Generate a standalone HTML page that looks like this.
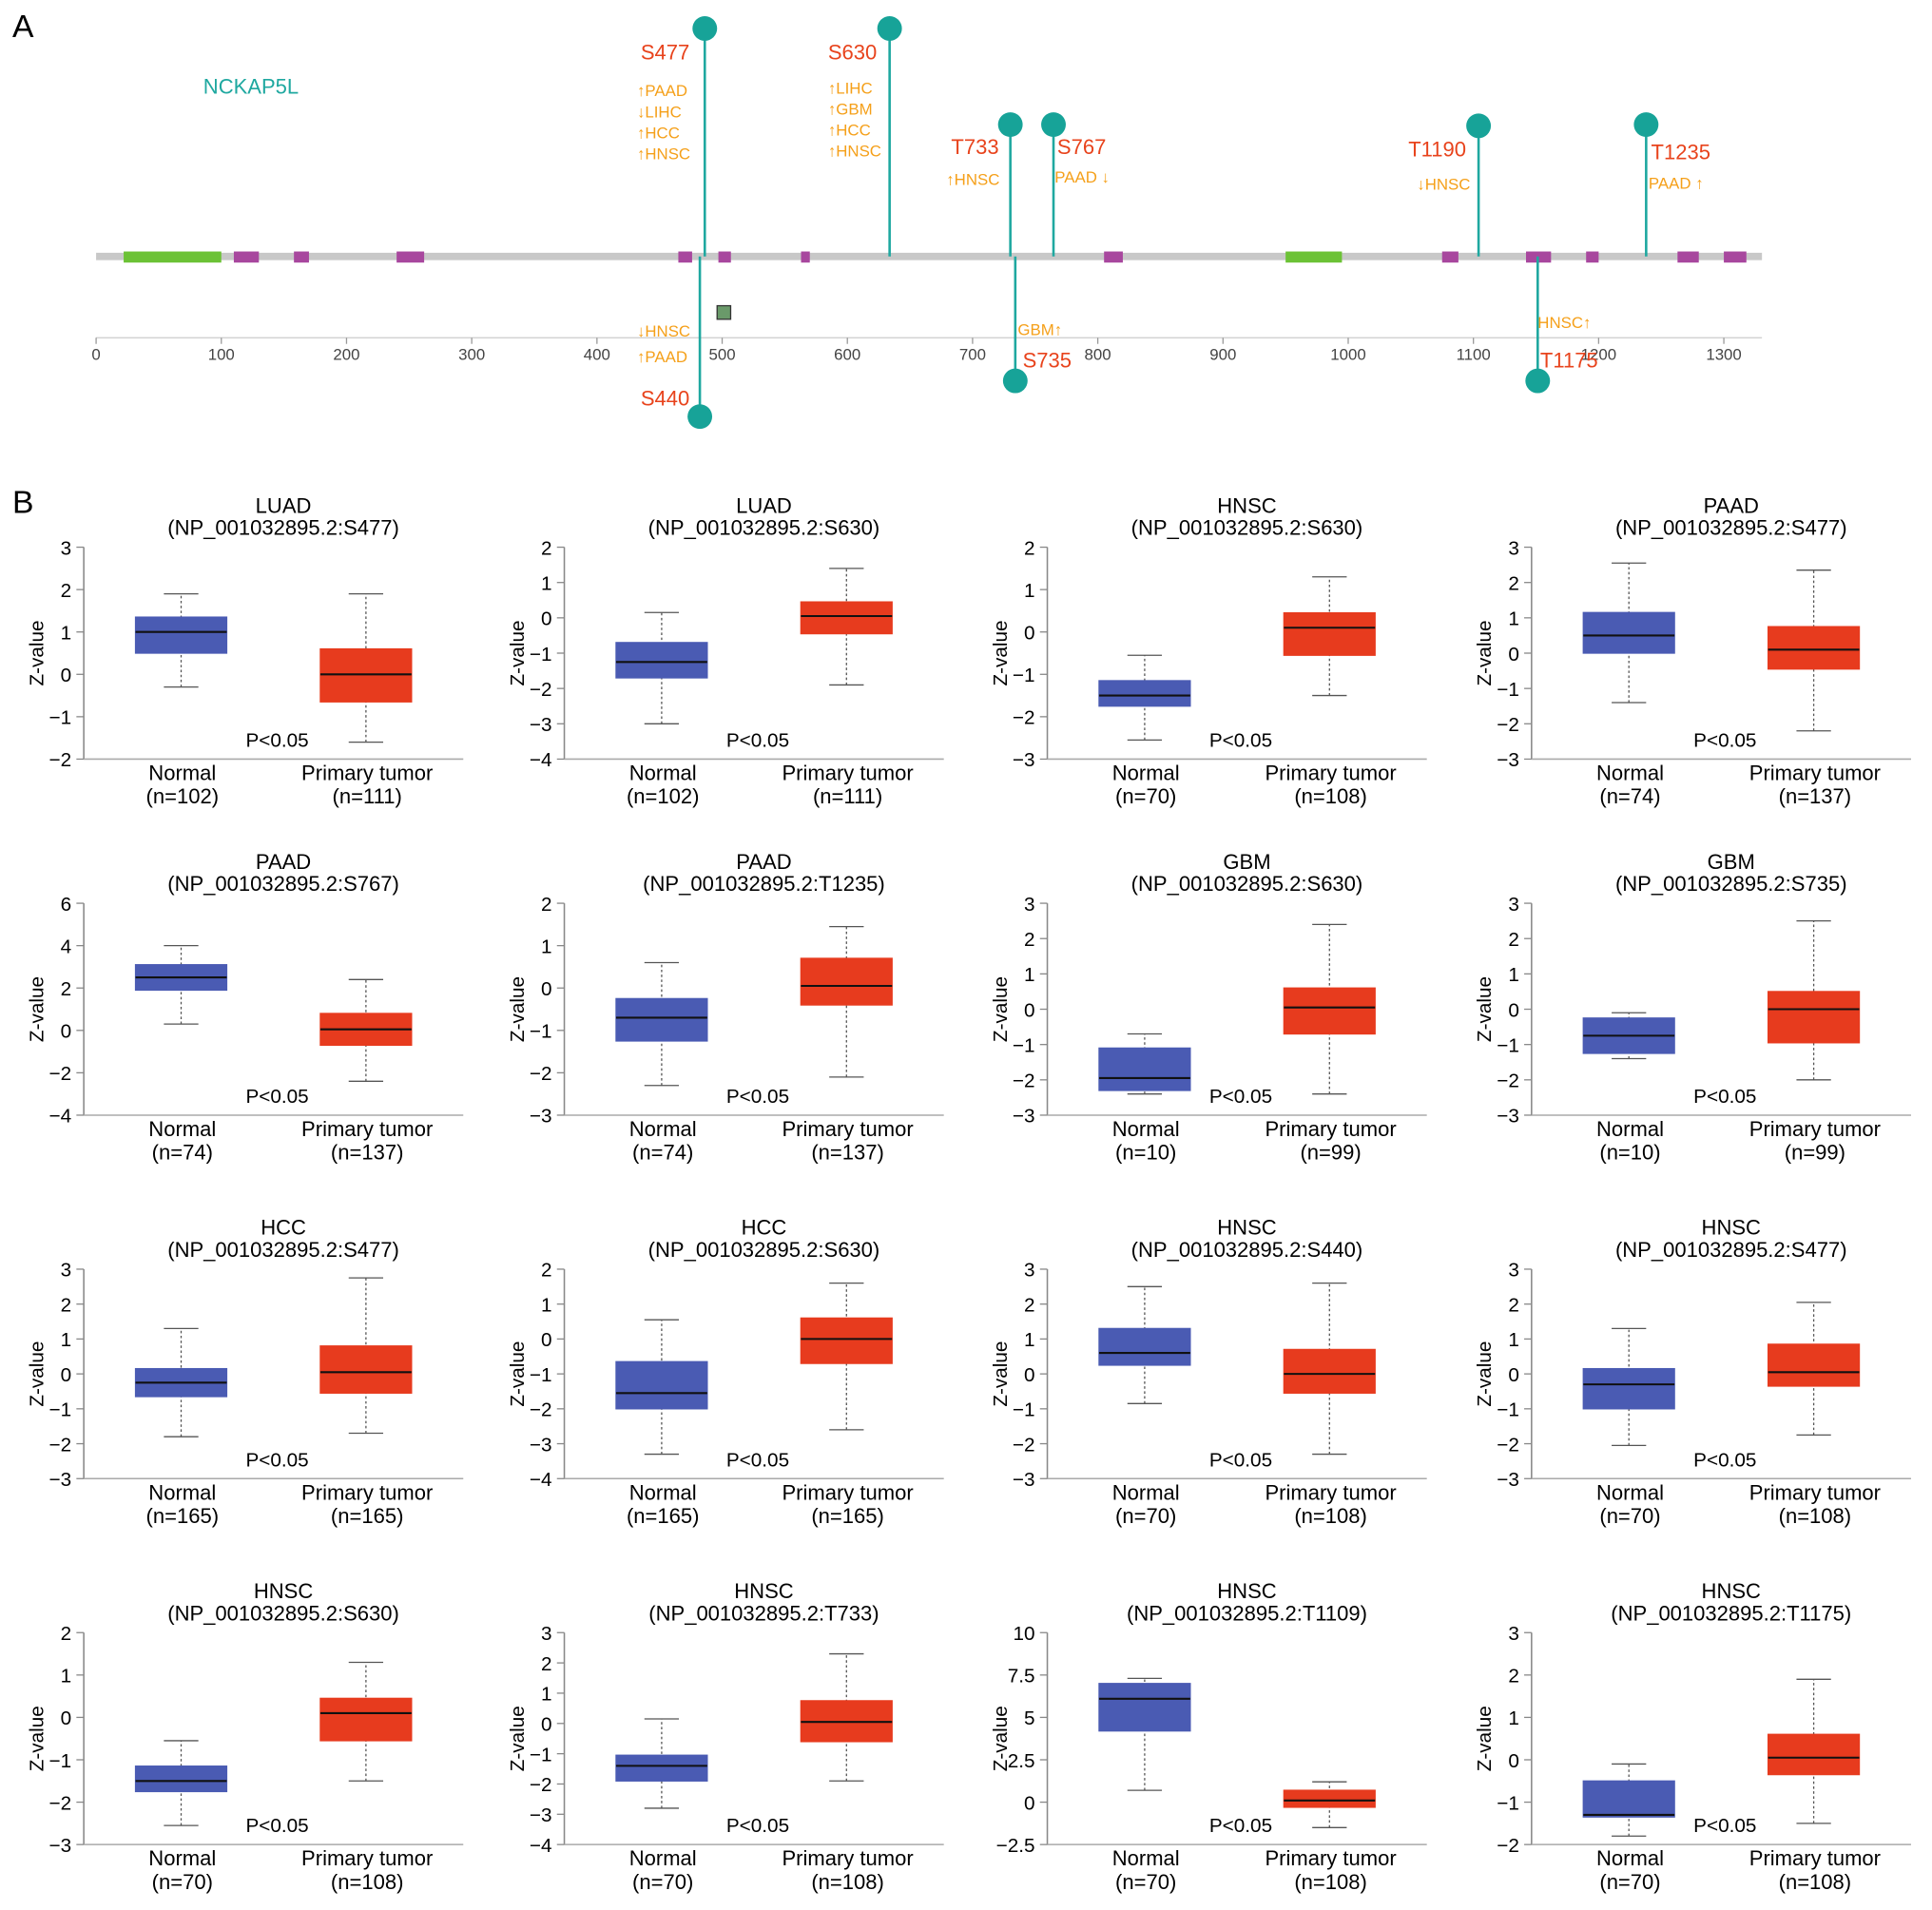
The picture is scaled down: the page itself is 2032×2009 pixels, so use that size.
<!DOCTYPE html>
<html><head><meta charset="utf-8">
<style>
html,body{margin:0;padding:0;background:#fff;}
svg{display:block;font-family:"Liberation Sans",Arial,sans-serif;}
</style></head>
<body>
<svg id="fig" width="2032" height="2009" viewBox="0 0 1568 1550" xmlns="http://www.w3.org/2000/svg">
<text x="10" y="30" font-size="26">A</text>
<text x="10" y="416" font-size="26">B</text>
<text x="165" y="76" font-size="17" fill="#1fa8a0">NCKAP5L</text>
<g id="panelA"></g>
<g id="panelB"></g>
</svg>
<script>
const NS="http://www.w3.org/2000/svg";
function el(tag,attrs,parent,text){const e=document.createElementNS(NS,tag);for(const k in attrs)e.setAttribute(k,attrs[k]);if(text!==undefined)e.textContent=text;parent.appendChild(e);return e;}

// ---------- Panel A data ----------
const axisTicks=[0,100,200,300,400,500,600,700,800,900,1000,1100,1200,1300];
const greenDomains=[[22,100],[950,995]];
const magentaDomains=[[110,130],[158,170],[240,262],[465,476],[497,507],[563,570],[805,820],[1075,1088],[1142,1162],[1190,1200],[1263,1280],[1300,1318]];
const siteNames=["S477","S630","T733","S767","T1190","T1235","S440","S735","T1175"];
const siteX=[572,722,820,855,1200,1336,568,824,1248];
const siteTop=[23,23,101,101,102,101,338,309,309];
const A=document.getElementById('panelA');
const ax=v=>78+v*1.0162;
el('line',{x1:78,y1:208,x2:1430,y2:208,stroke:'#c8c8c8','stroke-width':6},A);
greenDomains.forEach(d=>{const r=el('rect',{x:ax(d[0]),y:204,width:ax(d[1])-ax(d[0]),height:9,fill:'#6cc236'},A);});
magentaDomains.forEach(d=>{const r=el('rect',{x:ax(d[0]),y:204,width:ax(d[1])-ax(d[0]),height:9,fill:'#a8479e'},A);});
el('line',{x1:78,y1:274,x2:1430,y2:274,stroke:'#ccc','stroke-width':1},A);
axisTicks.forEach(t=>{el('line',{x1:ax(t),y1:274,x2:ax(t),y2:279,stroke:'#999'},A);const tx=el('text',{x:ax(t),y:292,'font-size':13,'text-anchor':'middle',fill:'#444'},A,t);});
el('rect',{x:582,y:248,width:11,height:11,fill:'#6a9a6a',stroke:'#333'},A);
siteNames.forEach((n,i)=>{
  const x=siteX[i],y=siteTop[i];
  el('line',{x1:x,y1:208,x2:x,y2:y,stroke:'#1fa8a0','stroke-width':2},A);
  const c=el('circle',{cx:x,cy:y,r:10,fill:'#17a398'},A);
  
  
});
const siteLabels=[["S477",520,48],["S630",672,48],["T733",772,125],["S767",858,125],["T1190",1143,127],["T1235",1340,129],["S440",520,329],["S735",830,298],["T1175",1250,298]];
siteLabels.forEach(s=>{const t=el('text',{x:s[1],y:s[2],'font-size':17,fill:'#e8431c'},A,s[0]);});
const canc=[["↑PAAD",517,78],["↓LIHC",517,95],["↑HCC",517,112],["↑HNSC",517,129],["↑LIHC",672,76],["↑GBM",672,93],["↑HCC",672,110],["↑HNSC",672,127],["↑HNSC",768,150],["PAAD ↓",856,148],["↓HNSC",1150,154],["PAAD ↑",1338,153],["↓HNSC",517,273],["↑PAAD",517,294],["GBM↑",826,272],["HNSC↑",1248,266]];
canc.forEach(s=>{const t=el('text',{x:s[1],y:s[2],'font-size':13,fill:'#f5a01a'},A,s[0]);});

// ---------- Panel B data ----------
const titles=["LUAD","LUAD","HNSC","PAAD","PAAD","PAAD","GBM","GBM","HCC","HCC","HNSC","HNSC","HNSC","HNSC","HNSC","HNSC"];
const sites=["S477","S630","S630","S477","S767","T1235","S630","S735","S477","S630","S440","S477","S630","T733","T1109","T1175"];
const yMin=[-2,-4,-3,-3,-4,-3,-3,-3,-3,-4,-3,-3,-3,-4,-2.5,-2];
const yMax=[3,2,2,3,6,2,3,3,3,2,3,3,2,3,10,3];
const yStep=[1,1,1,1,2,1,1,1,1,1,1,1,1,1,2.5,1];
const normalN=[102,102,70,74,74,74,10,10,165,165,70,70,70,70,70,70];
const tumorN=[111,111,108,137,137,137,99,99,165,165,108,108,108,108,108,108];
// [whiskerLow, q1, median, q3, whiskerHigh]
const normalBox=[[-0.3,0.5,1.0,1.35,1.9],[-3,-1.7,-1.25,-0.7,0.15],[-2.55,-1.75,-1.5,-1.15,-0.55],[-1.4,0,0.5,1.15,2.55],
 [0.3,1.9,2.5,3.1,4],[-2.3,-1.25,-0.7,-0.25,0.6],[-2.4,-2.3,-1.95,-1.1,-0.7],[-1.4,-1.25,-0.75,-0.25,-0.1],
 [-1.8,-0.65,-0.25,0.15,1.3],[-3.3,-2,-1.55,-0.65,0.55],[-0.85,0.25,0.6,1.3,2.5],[-2.05,-1,-0.3,0.15,1.3],
 [-2.55,-1.75,-1.5,-1.15,-0.55],[-2.8,-1.9,-1.4,-1.05,0.15],[0.7,4.2,6.1,7,7.3],[-1.8,-1.35,-1.3,-0.5,-0.1]];
const tumorBox=[[-1.6,-0.65,0,0.6,1.9],[-1.9,-0.45,0.05,0.45,1.4],[-1.5,-0.55,0.1,0.45,1.3],[-2.2,-0.45,0.1,0.75,2.35],
 [-2.4,-0.7,0.05,0.8,2.4],[-2.1,-0.4,0.05,0.7,1.45],[-2.4,-0.7,0.05,0.6,2.4],[-2,-0.95,0,0.5,2.5],
 [-1.7,-0.55,0.05,0.8,2.75],[-2.6,-0.7,0,0.6,1.6],[-2.3,-0.55,0,0.7,2.6],[-1.75,-0.35,0.05,0.85,2.05],
 [-1.5,-0.55,0.1,0.45,1.3],[-1.9,-0.6,0.05,0.75,2.3],[-1.5,-0.3,0.1,0.7,1.2],[-1.5,-0.35,0.05,0.6,1.9]];

const colAxisX=[68,458,850,1243];
const rowTop=[444,733,1030,1325];
const rowBot=[616,905,1200,1497];
const B=document.getElementById('panelB');
function fmt(v){return (v<0?'−':'')+Math.abs(v);}
for(let i=0;i<16;i++){
  const r=Math.floor(i/4),c=i%4;
  const g=el('g',{},B);
  
  
  const x0=colAxisX[c],top=rowTop[r],bot=rowBot[r];
  const ys=v=>bot-(v-yMin[i])/(yMax[i]-yMin[i])*(bot-top);
  const cx=x0+150;
  el('text',{x:cx+12,y:top-28,'font-size':17,'text-anchor':'middle'},g,titles[i]);
  el('text',{x:cx+12,y:top-10,'font-size':17,'text-anchor':'middle'},g,'(NP_001032895.2:'+sites[i]+')');
  el('line',{x1:x0,y1:top,x2:x0,y2:bot,stroke:'#888','stroke-width':1.2},g);
  el('line',{x1:x0,y1:bot,x2:x0+308,y2:bot,stroke:'#aaa','stroke-width':1.2},g);
  for(let v=yMin[i];v<=yMax[i]+1e-9;v+=yStep[i]){
    const y=ys(v);
    el('line',{x1:x0-6,y1:y,x2:x0,y2:y,stroke:'#888'},g);
    const t=el('text',{x:x0-10,y:y+6,'font-size':16,'text-anchor':'end'},g,fmt(v));
    
    
  }
  const yl=el('text',{x:0,y:0,'font-size':16,'text-anchor':'middle',transform:`translate(${x0-33},${(top+bot)/2}) rotate(-90)`},g,'Z-value');
  
  
  [[normalBox[i],x0+79,'#4a5bb3','normal'],[tumorBox[i],x0+229,'#e73b1e','tumor']].forEach(([b,bx,col,nm])=>{
    el('line',{x1:bx,y1:ys(b[0]),x2:bx,y2:ys(b[4]),stroke:'#555','stroke-width':1,'stroke-dasharray':'2,2'},g);
    el('line',{x1:bx-14,y1:ys(b[0]),x2:bx+14,y2:ys(b[0]),stroke:'#555'},g);
    el('line',{x1:bx-14,y1:ys(b[4]),x2:bx+14,y2:ys(b[4]),stroke:'#555'},g);
    const rc=el('rect',{x:bx-37,y:ys(b[3]),width:74,height:ys(b[1])-ys(b[3]),fill:col,stroke:col},g);
    
    
    el('line',{x1:bx-37,y1:ys(b[2]),x2:bx+37,y2:ys(b[2]),stroke:'#111','stroke-width':1.6},g);
  });
  el('text',{x:x0+157,y:bot-10,'font-size':16,'text-anchor':'middle'},g,'P<0.05');
  el('text',{x:x0+80,y:bot+17,'font-size':17,'text-anchor':'middle'},g,'Normal');
  el('text',{x:x0+80,y:bot+36,'font-size':17,'text-anchor':'middle'},g,'(n='+normalN[i]+')');
  el('text',{x:x0+230,y:bot+17,'font-size':17,'text-anchor':'middle'},g,'Primary tumor');
  el('text',{x:x0+230,y:bot+36,'font-size':17,'text-anchor':'middle'},g,'(n='+tumorN[i]+')');
}
</script>
</body></html>
